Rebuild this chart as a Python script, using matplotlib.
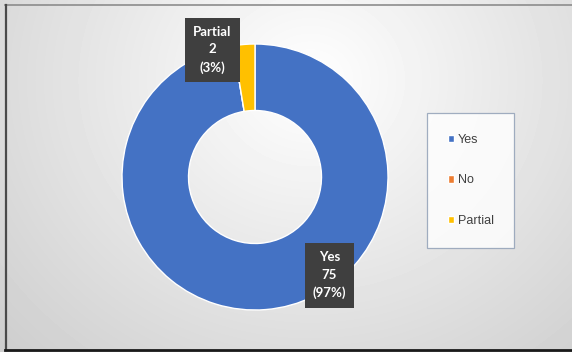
import numpy as np
import matplotlib
matplotlib.use("Agg")
import matplotlib.pyplot as plt

# survey answers
categories = ["Yes", "No", "Partial"]
counts = [75, 0, 2]
colors = ["#4472C4", "#ED7D31", "#FFC000"]

W, H = 572, 352
fig = plt.figure(figsize=(W / 100, H / 100), dpi=100)

# soft radial backdrop, brightest near the top middle
bg = fig.add_axes([0, 0, 1, 1], zorder=-10)
yy, xx = np.mgrid[0:H, 0:W]
dist = np.hypot((xx - 310) / 330.0, (yy - 80) / 300.0)
shade = np.clip(1.0 - 0.15 * dist, 0.8, 1.0)
bg.imshow(shade, cmap="gray", vmin=0, vmax=1, extent=(0, W, H, 0), aspect="auto")
bg.set_xlim(0, W)
bg.set_ylim(H, 0)
bg.axis("off")
# frame lines
bg.plot([5, W], [5, 5], color="#8c8c8c", lw=1.2)
bg.plot([5.5, 5.5], [5, 350], color="#4a4a4a", lw=1.6)
bg.plot([5, W], [350, 350], color="#1a1a1a", lw=2.0)

# donut: centre (255,177), outer radius 133 px
cx, cy, r = 255, 177, 133
ax = fig.add_axes([(cx - r) / W, (H - cy - r) / H, 2 * r / W, 2 * r / H])
wedges, _ = ax.pie(counts, colors=colors, startangle=90, counterclock=False,
                   radius=1.0, wedgeprops=dict(width=0.5, edgecolor="white", linewidth=1.0))
ax.set_xlim(-1, 1)
ax.set_ylim(-1, 1)
ax.set_aspect("equal")
ax.axis("off")

total = sum(counts)
label_pos = {"Partial": (-0.32, 0.955), "Yes": (0.56, -0.74)}
for name, val in zip(categories, counts):
    if val == 0:
        continue
    pct = round(100 * val / total)
    x, y = label_pos[name]
    ax.text(x, y, f"{name}\n{val}\n({pct}%)", ha="center", va="center",
            color="white", fontsize=9.5, fontweight="bold", family="Lato",
            linespacing=1.55, clip_on=False, zorder=5,
            bbox=dict(boxstyle="square,pad=0.62", facecolor="#3f3f3f", edgecolor="none"))

leg = fig.legend(wedges, categories, loc="upper left",
                 bbox_to_anchor=(427 / W, 1 - 113 / H), borderaxespad=0,
                 fancybox=False, frameon=True, borderpad=1.65,
                 labelspacing=2.3, handlelength=0.5, handleheight=0.5,
                 handletextpad=0.3, prop={"family": "Liberation Sans", "size": 9})
leg.get_frame().set_edgecolor("#8b9bb3")
leg.get_frame().set_linewidth(0.9)
leg.get_frame().set_facecolor("white")
for t in leg.get_texts():
    t.set_color("#404040")

fig.savefig("out.png", dpi=100)
